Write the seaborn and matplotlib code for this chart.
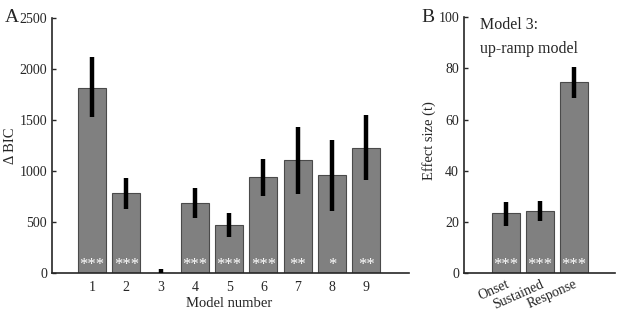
import numpy as np
import matplotlib
matplotlib.use("Agg")
import matplotlib.pyplot as plt
import seaborn as sns
import pandas as pd

# Panel A data: delta BIC per model
models = ["1", "2", "3", "4", "5", "6", "7", "8", "9"]
bic = [1817, 781, 0, 689, 471, 938, 1105, 958, 1225]
bic_lo = [1525, 627, 0, 536, 356, 758, 775, 611, 909]
bic_hi = [2113, 934, 35, 830, 585, 1121, 1434, 1304, 1546]
bic_stars = ["***", "***", "", "***", "***", "***", "**", "*", "**"]

# Panel B data: effect size for model 3
regressors = ["Onset", "Sustained", "Response"]
effect = [23.4, 24.5, 74.6]
eff_lo = [18.5, 20.5, 68.6]
eff_hi = [28.0, 28.4, 80.5]
eff_stars = ["***", "***", "***"]

sns.set_style("ticks")
plt.rcParams["font.family"] = ["Liberation Serif", "DejaVu Serif"]

bar_color = "#808080"
edge_color = "#4a4a4a"

fig = plt.figure(figsize=(6.17, 3.13), dpi=100)
axA = fig.add_axes([0.0843, 0.1278, 0.5786, 0.8147])
axB = fig.add_axes([0.752, 0.1268, 0.2447, 0.818])


def draw_panel(ax, cats, vals, lo, hi, stars):
    df = pd.DataFrame({"cat": cats, "val": vals})
    sns.barplot(data=df, x="cat", y="val", ax=ax, color=bar_color,
                edgecolor=edge_color, linewidth=0.8, width=0.82,
                saturation=1, errorbar=None)
    for i in range(len(cats)):
        ax.plot([i, i], [lo[i], hi[i]], color="black", lw=3.2,
                solid_capstyle="butt", zorder=5)
        if stars[i]:
            ax.text(i, 0, stars[i], color="white", ha="center", va="bottom",
                    fontsize=12, zorder=6)
    for side in ["top", "right"]:
        ax.spines[side].set_visible(False)
    ax.spines["left"].set_linewidth(1.2)
    ax.spines["bottom"].set_linewidth(1.2)
    ax.tick_params(axis="y", direction="in", length=3, width=1.0, labelsize=10)
    ax.tick_params(axis="x", length=0, labelsize=10, pad=6)


draw_panel(axA, models, bic, bic_lo, bic_hi, bic_stars)
axA.set_xlim(-1.17, 9.25)
axA.set_ylim(0, 2500)
axA.set_yticks([0, 500, 1000, 1500, 2000, 2500])
axA.set_xlabel("Model number", fontsize=10.5)
axA.set_ylabel("Δ BIC", fontsize=10.5)
axA.xaxis.set_label_coords(0.497, -0.094)
axA.yaxis.set_label_coords(-0.098, 0.5)

draw_panel(axB, regressors, effect, eff_lo, eff_hi, eff_stars)
axB.set_xlim(-1.24, 3.2)
axB.set_ylim(0, 100)
axB.set_yticks([0, 20, 40, 60, 80, 100])
axB.set_xlabel("")
axB.set_ylabel("Effect size (t)", fontsize=10.5)
axB.yaxis.set_label_coords(-0.185, 0.52)
for lab in axB.get_xticklabels():
    lab.set_rotation(24)
    lab.set_ha("right")
    lab.set_rotation_mode("anchor")
axB.tick_params(axis="x", pad=3)
axB.text(-0.78, 97, "Model 3:", fontsize=11.5, va="center", ha="left")
axB.text(-0.78, 87.5, "up-ramp model", fontsize=11.5, va="center", ha="left")

fig.text(0.008, 0.945, "A", fontsize=14, va="center", ha="left")
fig.text(0.683, 0.945, "B", fontsize=14, va="center", ha="left")

fig.savefig("out.png", dpi=100)
